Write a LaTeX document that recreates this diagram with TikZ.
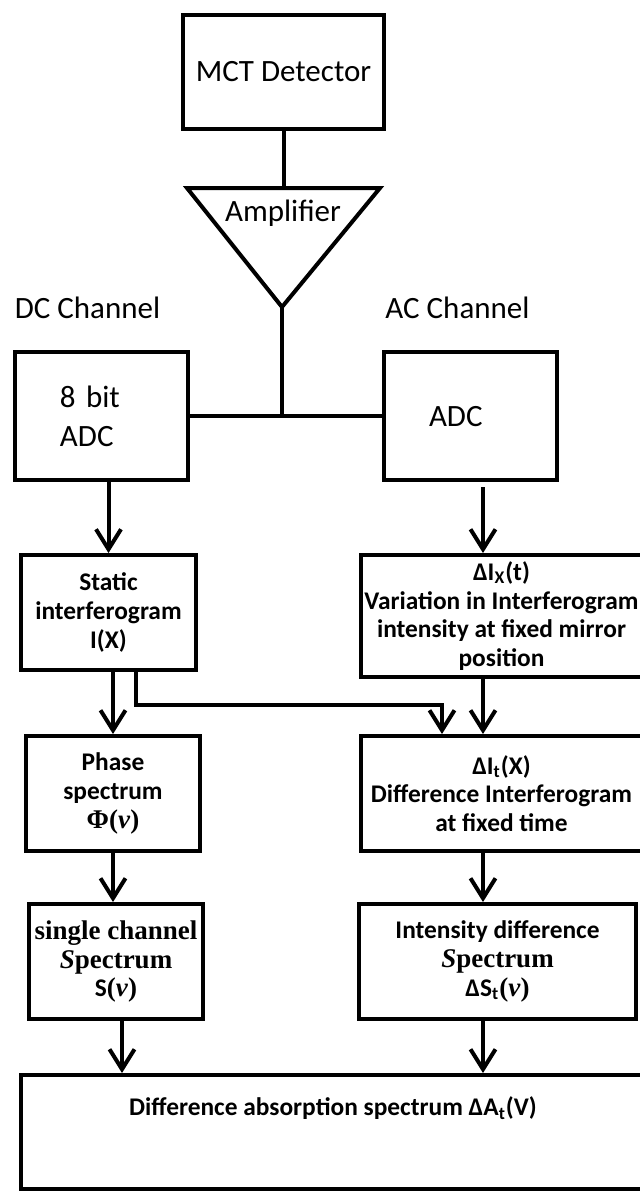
\documentclass[tikz,border=0pt]{standalone}
\usepackage{fontspec}
\setmainfont{Carlito}
\newfontfamily\cambria{Liberation Serif}
\usetikzlibrary{arrows.meta,positioning}

\tikzset{
  blk/.style={draw, line width=2pt, align=center, inner sep=0pt},
  adcblk/.style={blk, align=left, text width=41.5pt, inner xsep=22.5pt, minimum height=64pt},
  wire/.style={line width=2pt},
  arr/.style={line width=2pt, -{Straight Barb[length=10pt,width=12.5pt]}},
  bigtxt/.style={font=\fontsize{15.5}{19.5}\selectfont},
  boldtxt/.style={font=\fontsize{12.7}{14.4}\selectfont\bfseries},
}

\begin{document}
\begin{tikzpicture}[x=0.5pt, y=-0.5pt]
            \useasboundingbox (0,0) rectangle (639,1191);

            \node[blk, bigtxt, minimum width=100.5pt, minimum height=57pt] (det) at (283.5,72) {MCT Detector};
            \coordinate (ampl) at (187,188);
            \coordinate (ampr) at (380,188);
            \coordinate (ampapex) at (282,307);
            \draw[wire, line join=miter] (ampl) -- (ampr) -- (ampapex) -- cycle;
            \node[bigtxt] (amp) at (283,213) {Amplifier};

            \node[bigtxt] (dclab) at (87.5,308) {DC Channel};
            \node[bigtxt] (aclab) at (457.5,308) {AC Channel};

            \node[adcblk, bigtxt] (dcadc) at (101.5,416) {8 bit\\ADC};
            \node[adcblk, bigtxt, text depth=-6pt] (acadc) at (470.5,416) {ADC};

            \node[blk, boldtxt, minimum width=87.5pt, minimum height=57.5pt] (static) at (108.5,612.5) {Static\\interferogram\\I(X)};
            \node[blk, boldtxt, minimum width=140.5pt, minimum height=61pt] (var) at (501.5,616) {ΔI\textsubscript{X}(t)\\Variation in Interferogram\\intensity at fixed mirror\\position};
            \node[blk, boldtxt, minimum width=87pt, minimum height=57.5pt] (phase) at (113,793.5) {Phase\\spectrum\\{\cambria\fontsize{13.5}{14.4}\selectfont Φ(\textit{ν})}};
            \node[blk, boldtxt, minimum width=140.5pt, minimum height=57.5pt] (diff) at (501.5,793.5) {ΔI\textsubscript{t}(X)\\Difference Interferogram\\at fixed time};
            \node[blk, boldtxt, minimum width=87pt, minimum height=57.5pt] (single) at (116,961.5) {{\cambria\fontsize{13.5}{14.4}\selectfont single channel}\\{\cambria\fontsize{13.5}{14.4}\selectfont\textit{S}pectrum}\\S{\cambria\fontsize{13.5}{14.4}\selectfont(\textit{ν})}};
            \node[blk, boldtxt, minimum width=138.5pt, minimum height=57.5pt] (inten) at (497.5,961.5) {Intensity difference\\{\cambria\fontsize{13.5}{14.4}\selectfont\textit{S}pectrum}\\ΔS\textsubscript{t}{\cambria\fontsize{13.5}{14.4}\selectfont(\textit{ν})}};
            \node[blk, minimum width=310.5pt, minimum height=57pt] (absorb) at (331.5,1132) {};
            \node[boldtxt] (abstxt) at (333,1108) {Difference absorption spectrum ΔA\textsubscript{t}(V)};

            \draw[wire] (det.south) -- (det.south |- ampl);
            \draw[wire] (ampapex) -- (ampapex |- dcadc.east);
            \draw[wire] (dcadc.east) -- (acadc.west);

            \draw[arr] (static.north |- dcadc.south) -- (static.north);
            \draw[arr, shorten <=2.5pt] ([xshift=6.25pt]acadc.south) -- ([xshift=6.25pt]acadc.south |- var.north);
            \draw[arr] (phase.north |- static.south) -- (phase.north);
            \draw[arr] ([xshift=13.75pt]static.south) -- ++(0,33) -| ([xshift=-29.75pt]diff.north);
            \draw[arr] ([xshift=-9.25pt]var.south) -- ([xshift=-9.25pt]diff.north);
            \draw[arr] (phase.south) -- (phase.south |- single.north);
            \draw[arr] ([xshift=-9.25pt]diff.south) -- ([xshift=-9.25pt]diff.south |- inten.north);
            \draw[arr] ([xshift=3pt]single.south) -- ([xshift=3pt]single.south |- absorb.north);
            \draw[arr] ([xshift=-7.25pt]inten.south) -- ([xshift=-7.25pt]inten.south |- absorb.north);
\end{tikzpicture}
\end{document}
